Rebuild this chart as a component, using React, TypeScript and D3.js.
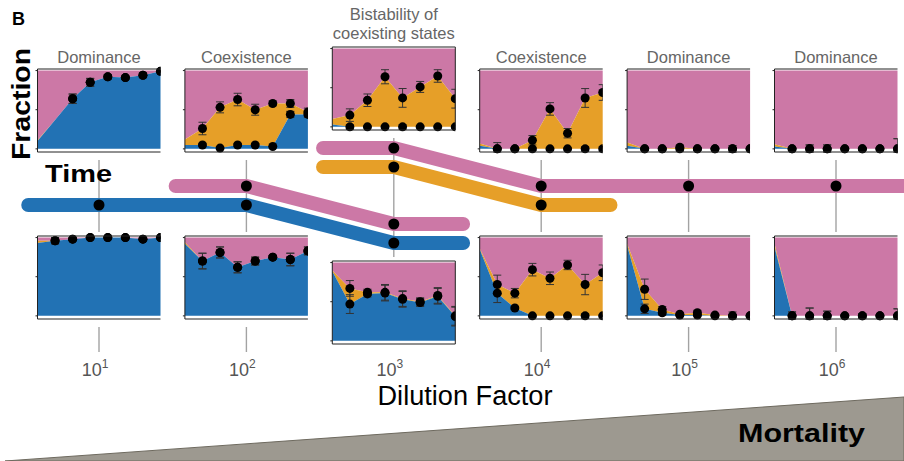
import React from 'react';
import * as d3 from 'd3';

const W = 904;
const H = 461;

const BLUE = '#2272b4';
const ORANGE = '#e69f28';
const PINK = '#cc78a6';

// decades of the dilution factor (log10)
const decades = [1, 2, 3, 4, 5, 6];
const topTitles = [['Dominance'], ['Coexistence'], ['Bistability of', 'coexisting states'], ['Coexistence'], ['Dominance'], ['Dominance']];
const times = [0, 1, 2, 3, 4, 5, 6, 7];

// cumulative fractions per panel, t = 0..7 : blue, blue + orange (pink is the rest)
const topBlue = [
  [0.10, 0.37, 0.64, 0.85, 0.92, 0.91, 0.94, 0.99],
  [0.05, 0.05, 0.01, 0.05, 0.05, 0.03, 0.44, 0.44],
  [0.03, 0, 0, 0, 0, 0, 0, 0],
  [0.04, 0, 0, 0, 0, 0, 0, 0],
  [0.04, 0, 0, 0, 0, 0, 0, 0],
  [0.03, 0, 0, 0, 0, 0, 0, 0],
];
const topMid = [
  [0.11, 0.37, 0.64, 0.85, 0.92, 0.91, 0.94, 0.99],
  [0.12, 0.26, 0.53, 0.63, 0.50, 0.58, 0.58, 0.47],
  [0.10, 0.15, 0.34, 0.64, 0.37, 0.51, 0.65, 0.36],
  [0.07, 0.0, 0.0, 0.11, 0.51, 0.20, 0.65, 0.72],
  [0.08, 0.0, 0.0, 0.02, 0.0, 0.0, 0.0, 0.0],
  [0.06, 0, 0, 0, 0, 0, 0, 0],
];
// error bar half widths for t = 1..7 (null = no measurement)
const topErrMid = [
  [null, 0.06, 0.05, 0.03, 0.02, 0.03, 0.01],
  [0.08, 0.07, 0.08, 0.07, 0.03, 0.05, 0.05],
  [0.08, 0.08, 0.09, 0.12, 0.07, 0.08, 0.12],
  [0.08, 0.01, 0.06, 0.08, 0.06, 0.12, 0.10],
  [0.01, 0.01, 0.03, 0.01, 0.01, 0.04, 0.01],
  [0.01, 0.05, 0.05, 0.01, 0.01, 0.01, 0.13],
];
const topErrBlue = [
  [null, 0.06, 0.05, 0.03, 0.02, 0.03, 0.01],
  [0.02, 0.0, 0.02, 0.02, 0.0, 0.04, 0.04],
  [0.03, 0.01, 0.01, 0.03, 0.01, 0.01, 0.02],
  [0.01, 0.01, 0.02, 0.01, 0.01, 0.03, 0.03],
  [0.01, 0.01, 0.03, 0.01, 0.01, 0.04, 0.01],
  [0.01, 0.05, 0.05, 0.01, 0.01, 0.01, 0.13],
];

const botBlue = [
  [0.93, 0.96, 0.98, 1.0, 1.0, 1.0, 0.98, 1.0],
  [0.92, 0.70, 0.81, 0.62, 0.70, 0.75, 0.72, 0.83],
  [0.89, 0.47, 0.60, 0.61, 0.53, 0.49, 0.57, 0.31],
  [0.85, 0.29, 0.10, 0, 0, 0, 0, 0],
  [0.90, 0.09, 0.04, 0.01, 0.01, 0, 0, 0],
  [0.88, 0, 0, 0, 0, 0, 0, 0],
];
const botMid = [
  [0.96, 0.96, 0.98, 1.0, 1.0, 1.0, 0.98, 1.0],
  [0.94, 0.70, 0.81, 0.62, 0.70, 0.75, 0.72, 0.83],
  [0.90, 0.67, 0.62, 0.62, 0.54, 0.50, 0.58, 0.32],
  [0.86, 0.40, 0.29, 0.59, 0.48, 0.65, 0.40, 0.55],
  [0.92, 0.34, 0.08, 0.02, 0.04, 0.01, 0, 0],
  [0.92, 0, 0, 0, 0, 0, 0, 0],
];
const botErrMid = [
  [0.04, 0.01, 0.01, 0.01, 0.01, 0.01, 0.01],
  [0.10, 0.07, 0.07, 0.05, 0.02, 0.08, 0.05],
  [0.10, 0.04, 0.10, 0.10, 0.05, 0.10, 0.12],
  [0.12, 0.06, 0.08, 0.08, 0.06, 0.13, 0.10],
  [0.13, 0.04, 0.01, 0.03, 0.01, 0.05, 0.01],
  [0.05, 0.10, 0.06, 0.01, 0.03, 0.01, 0.09],
];
const botErrBlue = [
  [0.04, 0.01, 0.01, 0.01, 0.01, 0.01, 0.01],
  [0.10, 0.07, 0.07, 0.05, 0.02, 0.08, 0.05],
  [0.12, 0.04, 0.10, 0.10, 0.05, 0.10, 0.12],
  [0.12, 0.02, 0.01, 0.01, 0.01, 0.03, 0.01],
  [0.06, 0.03, 0.01, 0.01, 0.01, 0.01, 0.01],
  [0.05, 0.10, 0.06, 0.01, 0.03, 0.01, 0.09],
];

// state tracks: [log10 dilution, level], level 0 = highest
const tracks = [
  { color: BLUE, pts: [[0.52, 3], [1, 3], [2, 3], [3, 5], [3.47, 5]], dots: [1, 2, 3] },
  { color: PINK, pts: [[1.52, 2], [2, 2], [3, 4], [3.47, 4]], dots: [2, 3] },
  { color: PINK, pts: [[2.52, 0], [3, 0], [4, 2], [5, 2], [6, 2], [6.6, 2]], dots: [3, 4, 5, 6] },
  { color: ORANGE, pts: [[2.52, 1], [3, 1], [4, 3], [4.47, 3]], dots: [3, 4] },
];

const x = d3.scaleLog().domain([10, 1e6]).range([99, 836]);
const level = d3.scaleLinear().domain([0, 5]).range([148, 243]);
const PW = 123;
const PH = 83;

function Panel({ id, cx, top, blue, mid, errB, errM }: any) {
  const px = d3.scaleLinear().domain([0, 7]).range([cx - PW / 2, cx + PW / 2]);
  const py = d3.scaleLinear().domain([-0.04, 1.02]).range([top + PH, top]);
  const areaB = d3.area<number>().x((_, i) => px(times[i])).y0(py(0)).y1((d) => py(d));
  const areaO = d3.area<number>().x((_, i) => px(times[i])).y0((_, i) => py(blue[i])).y1((d) => py(d));
  const areaP = d3.area<number>().x((_, i) => px(times[i])).y0((d) => py(d)).y1(py(1));
  const dots: any[] = [];
  times.slice(1).forEach((t, k) => {
    [[blue[t], errB[k]], [mid[t], errM[k]]].forEach(([v, e]: any) => {
      if (e === null) return;
      dots.push({ t, v, e });
    });
  });
  const yMin = py.domain()[0];
  return (
    <g>
      <clipPath id={id}>
        <rect x={px(0)} y={top - 12} width={PW} height={PH + 24} />
      </clipPath>
      <path d={areaP(mid) as string} fill={PINK} />
      <path d={areaO(mid) as string} fill={ORANGE} />
      <path d={areaB(blue) as string} fill={BLUE} />
      <g clipPath={`url(#${id})`}>
        {dots.map((d, i) => {
          const y1 = py(Math.max(yMin, d.v - d.e));
          const y2 = py(Math.min(1.02, d.v + d.e));
          const xx = px(d.t);
          return (
            <g key={'e' + i} stroke="#333" strokeWidth={1}>
              <line x1={xx} x2={xx} y1={y1} y2={y2} />
              <line x1={xx - 4} x2={xx + 4} y1={y1} y2={y1} />
              <line x1={xx - 4} x2={xx + 4} y1={y2} y2={y2} />
            </g>
          );
        })}
        {dots.map((d, i) => (
          <circle key={'d' + i} cx={px(d.t)} cy={py(d.v)} r={4.5} fill="#000" />
        ))}
      </g>
      <g stroke="#222" strokeWidth={1} fill="none">
        <line x1={px(0)} x2={px(7)} y1={top} y2={top} />
        <line x1={px(0)} x2={px(7)} y1={top + PH} y2={top + PH} />
        <line x1={px(0)} x2={px(0)} y1={top} y2={top + PH} />
        {[0, 0.5, 1].map((v) => (
          <line key={v} x1={px(0) - 2} x2={px(0)} y1={py(v)} y2={py(v)} />
        ))}
      </g>
    </g>
  );
}

export default function App() {
  const line = d3.line<number[]>().x((d) => x(Math.pow(10, d[0]))).y((d) => level(d[1]));
  const topY = decades.map((d) => (d === 3 ? 47 : 69));
  const botY = decades.map((d) => (d === 3 ? 261 : 236));
  const font = 'Liberation Sans, Arial, Helvetica, sans-serif';
  return (
    <svg width={W} height={H} style={{ position: 'absolute', left: 0, top: 0 }} fontFamily={font}>
      <rect width={W} height={H} fill="#fff" />
      {/* mortality wedge */}
      <path d={`M5,461 L${W},397 L${W},461 Z`} fill="#9d9990" stroke="#6e6a5f" strokeWidth={1} />
      <text x={738} y={442} fontSize={26} fontWeight="bold" textLength={127} lengthAdjust="spacingAndGlyphs">Mortality</text>

      {/* vertical guide lines */}
      {decades.map((d, i) => {
        const xx = x(Math.pow(10, d));
        return (
          <g key={'v' + d} stroke="#a3a3a3" strokeWidth={1.4}>
            <line x1={xx} x2={xx} y1={topY[i] + PH + 8} y2={botY[i] - 4} />
            {botY[i] + PH + 8 < 352 && <line x1={xx} x2={xx} y1={botY[i] + PH + 8} y2={352} />}
          </g>
        );
      })}

      {/* state tracks */}
      {tracks.map((t, i) => (
        <path key={'t' + i} d={line(t.pts) as string} fill="none" stroke={t.color} strokeWidth={14} strokeLinecap="round" strokeLinejoin="round" />
      ))}
      {tracks.map((t, i) =>
        t.dots.map((d) => {
          const p = t.pts.find((q) => q[0] === d) as number[];
          return <circle key={'td' + i + d} cx={x(Math.pow(10, d))} cy={level(p[1])} r={5.5} fill="#000" />;
        })
      )}

      {/* panels */}
      {decades.map((d, i) => (
        <Panel key={'p' + d} id={'cp' + d} cx={x(Math.pow(10, d))} top={topY[i]} blue={topBlue[i]} mid={topMid[i]} errB={topErrBlue[i]} errM={topErrMid[i]} />
      ))}
      {decades.map((d, i) => (
        <Panel key={'b' + d} id={'cb' + d} cx={x(Math.pow(10, d))} top={botY[i]} blue={botBlue[i]} mid={botMid[i]} errB={botErrBlue[i]} errM={botErrMid[i]} />
      ))}
      {/* right edge of the bistability panels */}
      {[topY[2], botY[2]].map((ty) => (
        <line key={'r' + ty} x1={x(1e3) + PW / 2} x2={x(1e3) + PW / 2} y1={ty} y2={ty + PH} stroke="#222" strokeWidth={1} />
      ))}

      {/* titles */}
      {decades.map((d, i) =>
        topTitles[i].map((s, k) => (
          <text key={'ti' + d + k} x={x(Math.pow(10, d))} y={topTitles[i].length > 1 ? 20 + k * 19 : topY[i] - 6} textAnchor="middle" fontSize={16.5} fill="#666">
            {s}
          </text>
        ))
      )}

      {/* axis tick labels */}
      {decades.map((d) => (
        <text key={'x' + d} x={x(Math.pow(10, d)) - 4} y={376} textAnchor="middle" fontSize={18} fill="#555">
          10<tspan fontSize={12} dy={-8}>{d}</tspan>
        </text>
      ))}
      <text x={465} y={405} textAnchor="middle" fontSize={27} fill="#000" textLength={175} lengthAdjust="spacingAndGlyphs">Dilution Factor</text>

      <text x={12} y={25} fontSize={18} fontWeight="bold">B</text>
      <text transform="translate(30,160) rotate(-90)" fontSize={26} fontWeight="bold" textLength={112} lengthAdjust="spacingAndGlyphs">Fraction</text>
      <text x={45} y={182} fontSize={24} fontWeight="bold" textLength={67} lengthAdjust="spacingAndGlyphs">Time</text>
    </svg>
  );
}
